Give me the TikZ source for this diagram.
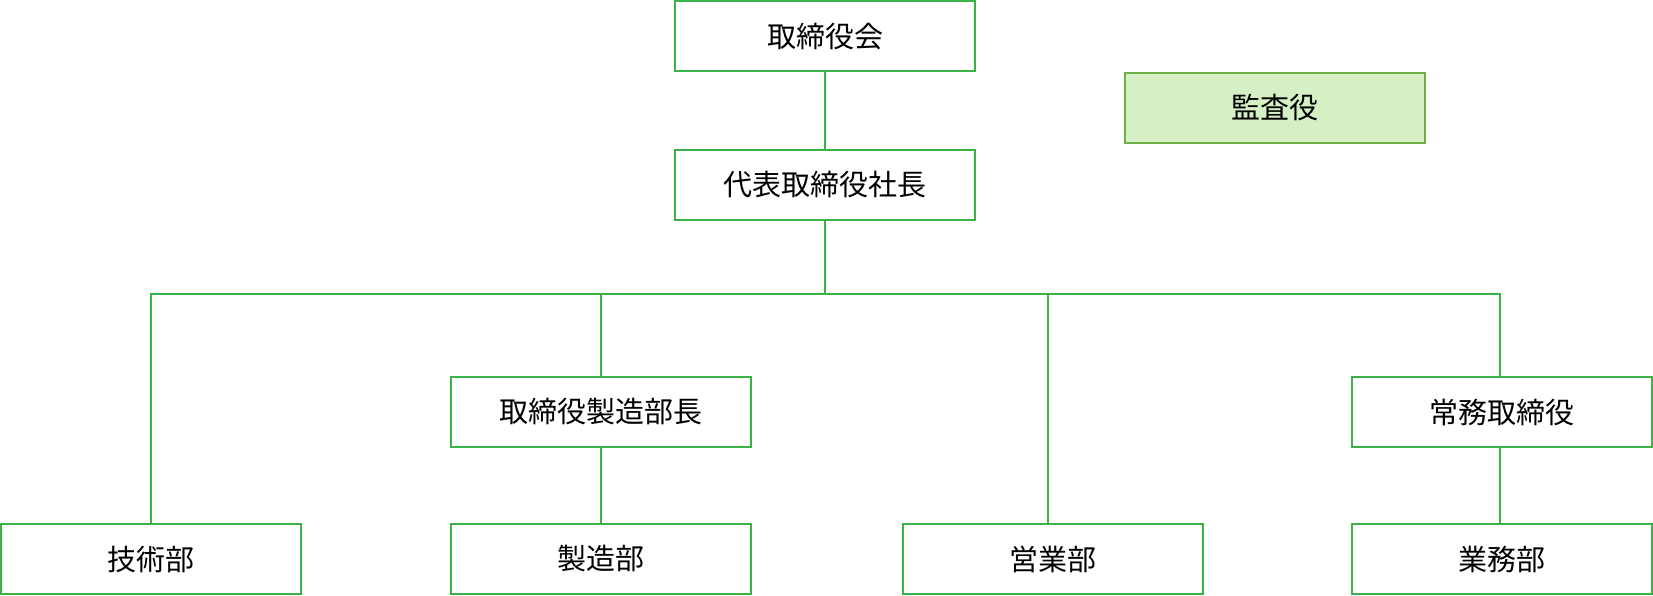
\documentclass[tikz,border=0pt]{standalone}
\usepackage{fontspec}
\setmainfont{Noto Sans CJK JP}
\usepackage{tikz}
\usetikzlibrary{positioning,calc}
\definecolor{ogreen}{RGB}{59,178,72}
\definecolor{aline}{RGB}{112,173,71}
\definecolor{afill}{RGB}{213,240,196}
\tikzset{
  box/.style  ={rectangle, draw=ogreen, fill=white, line width=2pt,
                minimum width=300pt, minimum height=70pt, inner sep=0pt,
                align=center, font=\fontsize{29}{34}\selectfont},
  audit/.style={box, draw=aline, fill=afill},
  wire/.style ={draw=ogreen, line width=2pt}
}
\begin{document}
\begin{tikzpicture}[x=1pt,y=-1pt]
\useasboundingbox (0,0) rectangle (1653,596);

\node[box] (board)  at (825,36.5) {取締役会};
\node[box] (pres)   at (825,185)  {代表取締役社長};
\node[audit] (kansa) at (1275,108) {監査役};

\node[box] (mfgdir) at (601,412)  {取締役製造部長};
\node[box] (mgdir)  at (1502,412) {常務取締役};

\node[box] (tech)   at (151,559)  {技術部};
\node[box] (mfg)    at (601,559)  {製造部};
\node[box] (sales)  at (1053,559) {営業部};
\node[box] (ops)    at (1502,559) {業務部};

\coordinate (bus) at (825,294);

\draw[wire] (board) -- (pres);
\draw[wire] (pres) -- (bus);
\draw[wire] (bus) -| (tech.north);
\draw[wire] (bus) -| (mfgdir.north);
\draw[wire] (bus) -| ([xshift=-5pt]sales.north);
\draw[wire] (bus) -| ([xshift=-2pt]mgdir.north);
\draw[wire] (mfgdir) -- (mfg);
\draw[wire] ([xshift=-2pt]mgdir.south) -- ([xshift=-2pt]ops.north);
\end{tikzpicture}
\end{document}
